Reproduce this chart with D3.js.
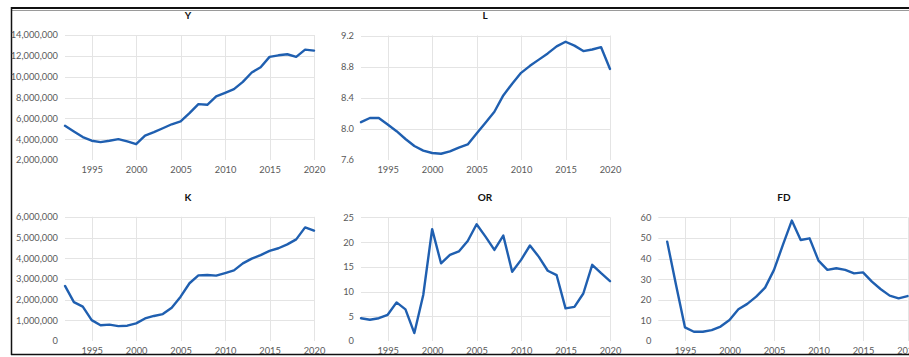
<!DOCTYPE html>
<html>
<head>
<meta charset="utf-8">
<script src="https://cdn.jsdelivr.net/npm/d3@7"></script>
<style>
  html, body { margin: 0; padding: 0; background: #fff; }
  svg { display: block; }
  .tick text { font-family: Lato, "Open Sans", sans-serif; font-size: 9.3px; fill: #595959; }
  .title { font-family: Lato, "Open Sans", sans-serif; font-size: 10px; font-weight: bold; fill: #111; }
</style>
</head>
<body>
<svg id="chart" width="909" height="357"></svg>
<script>
// Annual observations, 1992–2020
const years = d3.range(1992, 2021);

const seriesY = [5280000, 4740000, 4200000, 3850000, 3720000, 3850000, 4000000, 3780000, 3520000,
  4350000, 4670000, 5050000, 5430000, 5700000, 6500000, 7360000, 7300000, 8100000, 8450000,
  8800000, 9500000, 10400000, 10900000, 11900000, 12050000, 12150000, 11900000, 12600000, 12500000];

const seriesL = [8.086, 8.14, 8.14, 8.056, 7.97, 7.87, 7.78, 7.72, 7.69, 7.68, 7.71, 7.76, 7.80,
  7.94, 8.08, 8.22, 8.43, 8.58, 8.72, 8.81, 8.89, 8.97, 9.06, 9.12, 9.07, 9.00, 9.02, 9.05, 8.77];

const seriesK = [2660000, 1880000, 1660000, 1010000, 760000, 790000, 720000, 740000, 850000,
  1090000, 1210000, 1300000, 1610000, 2140000, 2790000, 3170000, 3190000, 3160000, 3280000,
  3410000, 3750000, 3980000, 4150000, 4350000, 4480000, 4670000, 4910000, 5490000, 5330000];

const seriesOR = [4.6, 4.3, 4.6, 5.3, 7.8, 6.4, 1.6, 9.3, 22.6, 15.7, 17.4, 18.1, 20.2, 23.6,
  21.1, 18.4, 21.3, 14.0, 16.4, 19.3, 17.0, 14.2, 13.3, 6.6, 6.9, 9.6, 15.4, 13.7, 12.1];

const seriesFD = [null, 48.2, 27.0, 6.6, 4.5, 4.5, 5.3, 7.0, 10.2, 15.4, 18.0, 21.5, 25.9, 34.5,
  46.6, 58.4, 49.0, 49.8, 39.0, 34.5, 35.3, 34.5, 32.8, 33.3, 28.8, 25.1, 22.0, 20.7, 21.8];

const yearTicks = [1995, 2000, 2005, 2010, 2015, 2020];
const ticksY = [2000000, 4000000, 6000000, 8000000, 10000000, 12000000, 14000000];
const ticksL = [7.6, 8.0, 8.4, 8.8, 9.2];
const ticksK = [0, 1000000, 2000000, 3000000, 4000000, 5000000, 6000000];
const ticksOR = [0, 5, 10, 15, 20, 25];
const ticksFD = [0, 10, 20, 30, 40, 50, 60];

const svg = d3.select("#chart");

// Outer frame (top, left, bottom)
const frame = svg.append("g");
frame.append("line").attr("x1", 11).attr("x2", 909).attr("y1", 8).attr("y2", 8)
  .attr("stroke", "#111").attr("stroke-width", 2);
frame.append("line").attr("x1", 11).attr("x2", 909).attr("y1", 10.5).attr("y2", 10.5)
  .attr("stroke", "#9a9a9a").attr("stroke-width", 1);
frame.append("line").attr("x1", 11.5).attr("x2", 11.5).attr("y1", 7).attr("y2", 355)
  .attr("stroke", "#111").attr("stroke-width", 1.5);
frame.append("line").attr("x1", 11).attr("x2", 909).attr("y1", 354.5).attr("y2", 354.5)
  .attr("stroke", "#111").attr("stroke-width", 1.5);

const panels = [
  { title: "Y",  values: seriesY,  ticks: ticksY,  fmt: d3.format(","),   x0: 65,    x1: 314,   yTop: 35,    yBot: 160, titleX: 188, titleY: 19 },
  { title: "L",  values: seriesL,  ticks: ticksL,  fmt: d3.format(".1f"), x0: 361,   x1: 610,   yTop: 35.5,  yBot: 160, titleX: 485, titleY: 19 },
  { title: "K",  values: seriesK,  ticks: ticksK,  fmt: d3.format(","),   x0: 65,    x1: 314,   yTop: 216.8, yBot: 341, titleX: 188, titleY: 201 },
  { title: "OR", values: seriesOR, ticks: ticksOR, fmt: d3.format("d"),   x0: 361,   x1: 610,   yTop: 217.3, yBot: 341, titleX: 485, titleY: 201 },
  { title: "FD", values: seriesFD, ticks: ticksFD, fmt: d3.format("d"),   x0: 658.3, x1: 907.5, yTop: 217.3, yBot: 341, titleX: 784, titleY: 201 }
];

panels.forEach(p => {
  const x = d3.scaleLinear().domain([1992, 2020]).range([p.x0, p.x1]);
  const y = d3.scaleLinear().domain(d3.extent(p.ticks)).range([p.yBot, p.yTop]);
  const g = svg.append("g");

  // Horizontal gridlines
  g.append("g").selectAll("line").data(p.ticks.slice(1)).join("line")
    .attr("x1", p.x0).attr("x2", p.x1)
    .attr("y1", d => Math.round(y(d)) + 0.5).attr("y2", d => Math.round(y(d)) + 0.5)
    .attr("stroke", "#e4e4e4").attr("stroke-width", 1);

  // Vertical gridlines
  g.append("g").selectAll("line").data(yearTicks).join("line")
    .attr("x1", d => Math.round(x(d)) + 0.5).attr("x2", d => Math.round(x(d)) + 0.5)
    .attr("y1", p.yTop).attr("y2", p.yBot)
    .attr("stroke", "#e4e4e4").attr("stroke-width", 1);

  // Axes (labels only)
  const ax = g.append("g").attr("transform", `translate(0,${p.yBot + 3})`)
    .call(d3.axisBottom(x).tickValues(yearTicks).tickFormat(d3.format("d")).tickSize(0));
  ax.select(".domain").remove();

  const ay = g.append("g").attr("transform", `translate(${p.x0 - 7},0)`)
    .call(d3.axisLeft(y).tickValues(p.ticks).tickFormat(p.fmt).tickSize(0).tickPadding(0));
  ay.select(".domain").remove();

  // Title
  g.append("text").attr("class", "title")
    .attr("x", p.titleX).attr("y", p.titleY).attr("text-anchor", "middle").text(p.title);

  // Series line
  const line = d3.line()
    .defined(d => d[1] != null)
    .x(d => x(d[0])).y(d => y(d[1]));
  g.append("path")
    .datum(years.map((yr, i) => [yr, p.values[i]]))
    .attr("fill", "none").attr("stroke", "#1f5fb0").attr("stroke-width", 2.4)
    .attr("stroke-linejoin", "round").attr("stroke-linecap", "round")
    .attr("d", line);
});
</script>
</body>
</html>
